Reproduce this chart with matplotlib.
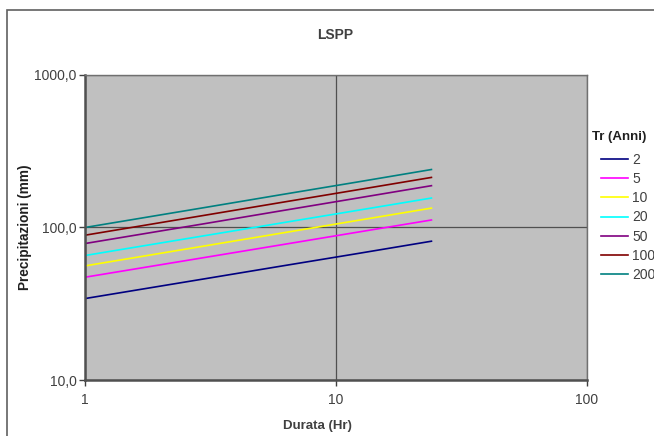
import numpy as np
import matplotlib
matplotlib.use("Agg")
import matplotlib.pyplot as plt
from matplotlib.patches import Rectangle
from matplotlib.ticker import FixedLocator, NullLocator, FuncFormatter

plt.rcParams['font.family'] = ['Liberation Sans', 'DejaVu Sans']

# durate (ore) e altezze di pioggia
durata = [1, 3, 6, 12, 24]
tr_labels = ['2', '5', '10', '20', '50', '100', '200']
h_tr2 = [34.2, 46.1, 55.7, 67.2, 81.3]
h_tr5 = [47.2, 63.6, 76.8, 92.8, 112.0]
h_tr10 = [56.0, 75.7, 91.6, 110.8, 134.0]
h_tr20 = [65.5, 88.4, 106.8, 129.0, 156.0]
h_tr50 = [78.5, 106.0, 128.4, 155.3, 188.0]
h_tr100 = [89.0, 120.3, 145.6, 176.0, 213.0]
h_tr200 = [100.0, 135.2, 163.8, 198.0, 240.0]
colori = ['#000080', '#FF00FF', '#FFFF00', '#00FFFF', '#800080', '#800000', '#008080']

serie = [h_tr2, h_tr5, h_tr10, h_tr20, h_tr50, h_tr100, h_tr200]
txt = '#404040'

fig = plt.figure(figsize=(6.54, 4.36), dpi=100)
W, H = 654, 436
ax = fig.add_axes([85 / W, 1 - 380 / H, (587 - 85) / W, (380 - 75) / H])
ax.set_facecolor('#C0C0C0')

for h, c, lab in zip(serie, colori, tr_labels):
    ax.plot(durata, h, color=c, lw=1.2, label=lab)

ax.set_xscale('log')
ax.set_yscale('log')
ax.set_xlim(1, 100)
ax.set_ylim(10, 1000)
ax.xaxis.set_major_locator(FixedLocator([1, 10, 100]))
ax.yaxis.set_major_locator(FixedLocator([10, 100, 1000]))
ax.xaxis.set_minor_locator(NullLocator())
ax.yaxis.set_minor_locator(NullLocator())
ax.xaxis.set_major_formatter(FuncFormatter(lambda v, p: '%d' % v))
ax.yaxis.set_major_formatter(FuncFormatter(lambda v, p: ('%.1f' % v).replace('.', ',')))
ax.tick_params(length=4, width=1, color='#404040', labelsize=10, labelcolor=txt, pad=2)
ax.tick_params(axis='x', pad=5)
ax.grid(True, which='major', color='#505050', lw=0.9)

for s in ['left', 'bottom']:
    ax.spines[s].set_color('#505050')
    ax.spines[s].set_linewidth(1.8)
for s in ['top', 'right']:
    ax.spines[s].set_color('#707070')
    ax.spines[s].set_linewidth(1.0)

ax.set_xlabel('Durata (Hr)', fontsize=9.5, fontweight='bold', color=txt, labelpad=10)
ax.xaxis.label.set_x((317 - 85) / (587 - 85))
ax.set_ylabel('Precipitazioni (mm)', fontsize=9.8, fontweight='bold', color='#202020', labelpad=2)
fig.text(335 / W, 1 - 35 / H, 'LSPP', ha='center', va='center', fontsize=10,
         fontweight='bold', color=txt)

fig.text(592 / W, 1 - 137 / H, 'Tr (Anni)', ha='left', va='center', fontsize=9.5,
         fontweight='bold', color='#202020')
leg = fig.legend(loc='upper left', bbox_to_anchor=(601 / W, 1 - 153 / H), frameon=False,
                 fontsize=10, handlelength=1.95, handletextpad=0.3,
                 labelspacing=0.37, borderaxespad=0, borderpad=0)
for t in leg.get_texts():
    t.set_color(txt)

fig.patches.append(Rectangle((7 / W, -0.1), 1.2, 1.1 - 10 / H, transform=fig.transFigure,
                             fill=False, edgecolor='#606060', lw=1.2))

fig.savefig('out.png', dpi=100)
